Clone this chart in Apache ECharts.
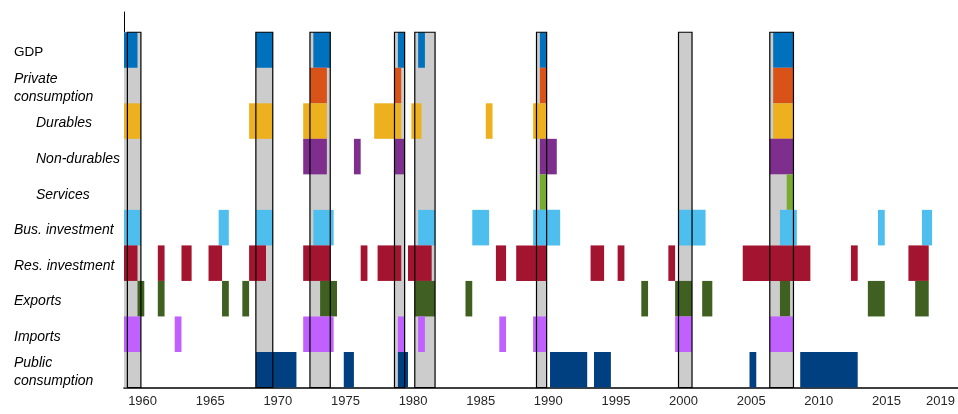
<!DOCTYPE html>
<html>
<head>
<meta charset="utf-8">
<script src="https://cdn.jsdelivr.net/npm/echarts@6/dist/echarts.min.js"></script>
<style>
  html, body { margin: 0; padding: 0; background: #ffffff; }
  #chart { width: 958px; height: 414px; }
</style>
</head>
<body>
<div id="chart"></div>
<script>
// ---- Data (decimal years; each bar spans [start, end]) ----
const rowLabels = ['GDP', 'Private\nconsumption', 'Durables', 'Non-durables', 'Services',
  'Bus. investment', 'Res. investment', 'Exports', 'Imports', 'Public\nconsumption'];
const tickYears = [1960, 1965, 1970, 1975, 1980, 1985, 1990, 1995, 2000, 2005, 2010, 2015, 2019];

const recessions = [[1959.0, 1960.0], [1968.5, 1969.75], [1972.5, 1974.0], [1978.75, 1979.5],
  [1980.25, 1981.75], [1989.25, 1990.0], [1999.75, 2000.75], [2006.5, 2008.25]];
const recessionShade = [[1958.75, 1960.0], [1968.5, 1969.75], [1972.5, 1974.0], [1978.75, 1979.5],
  [1980.25, 1981.75], [1989.25, 1990.0], [1999.75, 2000.75], [2006.5, 2008.25]];

const gdp = [[1958.75, 1959.75], [1968.5, 1969.75], [1972.75, 1974.0], [1979.0, 1979.5],
  [1980.5, 1981.0], [1989.5, 1990.0], [2006.75, 2008.25]];
const privateConsumption = [[1972.5, 1973.75], [1978.75, 1979.25], [1989.5, 1990.0], [2006.75, 2008.25]];
const durables = [[1958.75, 1960.0], [1968.0, 1969.75], [1972.0, 1973.75], [1977.25, 1979.25],
  [1980.0, 1980.75], [1985.5, 1986.0], [1989.0, 1990.0], [2006.75, 2008.25]];
const nonDurables = [[1972.0, 1973.75], [1975.75, 1976.25], [1978.75, 1979.5], [1989.5, 1990.75],
  [2006.5, 2008.25]];
const services = [[1989.5, 1990.0], [2007.75, 2008.25]];
const busInvestment = [[1958.75, 1960.0], [1965.75, 1966.5], [1968.5, 1969.75], [1972.75, 1974.25],
  [1980.5, 1981.75], [1984.5, 1985.75], [1989.0, 1991.0], [1999.75, 2001.75], [2007.25, 2008.5],
  [2014.5, 2015.0], [2017.75, 2018.5]];
const resInvestment = [[1958.75, 1959.75], [1961.25, 1961.75], [1963.0, 1963.75], [1965.0, 1966.0],
  [1968.0, 1969.25], [1972.0, 1974.0], [1976.25, 1976.75], [1977.5, 1979.25], [1979.75, 1981.5],
  [1986.25, 1987.0], [1987.75, 1990.0], [1993.25, 1994.25], [1995.25, 1995.75], [1999.0, 1999.5],
  [2004.5, 2009.5], [2012.5, 2013.0], [2016.75, 2018.25]];
const exportsData = [[1959.75, 1960.25], [1961.25, 1961.75], [1966.0, 1966.5], [1967.5, 1968.0],
  [1973.25, 1974.5], [1980.25, 1981.75], [1984.0, 1984.5], [1997.0, 1997.5], [1999.5, 2000.75],
  [2001.5, 2002.25], [2007.25, 2008.0], [2013.75, 2015.0], [2017.25, 2018.25]];
const importsData = [[1958.75, 1960.0], [1962.5, 1963.0], [1972.0, 1974.25], [1979.0, 1979.5],
  [1980.5, 1981.0], [1986.5, 1987.0], [1989.0, 1990.0], [1999.5, 2000.75], [2006.5, 2008.25]];
const publicConsumption = [[1968.5, 1971.5], [1975.0, 1975.75], [1979.0, 1979.75], [1990.25, 1993.0],
  [1993.5, 1994.75], [2005.0, 2005.5], [2008.75, 2013.0]];

const rowSeries = [gdp, privateConsumption, durables, nonDurables, services,
  busInvestment, resInvestment, exportsData, importsData, publicConsumption];
const rowColors = ['#0072BD', '#D95319', '#EDB120', '#7E2F8E', '#77AC30',
  '#4DBEEE', '#A2142F', '#3F6020', '#BF60FF', '#003F80'];

// ---- Chart ----
const nRows = rowLabels.length;
const chart = echarts.init(document.getElementById('chart'), null, { renderer: 'canvas' });

function bandRenderer(fill, stroke, lw) {
  return function (params, api) {
    const x0 = api.value(0), x1 = api.value(1), yb = api.value(2), yt = api.value(3);
    const p0 = api.coord([x0, yt]);
    const p1 = api.coord([x1, yb]);
    const cs = params.coordSys;
    const shape = echarts.graphic.clipRectByRect(
      { x: p0[0], y: p0[1], width: p1[0] - p0[0], height: p1[1] - p0[1] },
      { x: cs.x, y: cs.y, width: cs.width, height: cs.height });
    if (!shape) return;
    return {
      type: 'rect',
      shape: shape,
      style: stroke ? { fill: null, stroke: stroke, lineWidth: lw } : { fill: fill, opacity: 1 }
    };
  };
}

const series = [];
series.push({
  type: 'custom', name: 'shade', z: 1, silent: true,
  renderItem: bandRenderer('#CCCCCC'),
  encode: { x: [0, 1], y: [2, 3] },
  data: recessionShade.map(r => [r[0], r[1], 0, nRows])
});
rowSeries.forEach((arr, i) => {
  const bottom = nRows - 1 - i;
  series.push({
    type: 'custom', name: rowLabels[i], z: 2, silent: true,
    renderItem: bandRenderer(rowColors[i]),
    encode: { x: [0, 1], y: [2, 3] },
    data: arr.map(r => [r[0], r[1], bottom, bottom + 1])
  });
});
series.push({
  type: 'custom', name: 'recession', z: 3, silent: true,
  renderItem: bandRenderer(null, '#000000', 1.2),
  encode: { x: [0, 1], y: [2, 3] },
  data: recessions.map(r => [r[0], r[1], 0, nRows])
});

const labelCenters = rowLabels.map((_, i) => nRows - 1 - i + 0.5);
const italicRows = [1, 2, 3, 4, 5, 6, 7, 8, 9];
const indentRows = [2, 3, 4];
const FONT = 'Liberation Sans, Arial, sans-serif';

const option = {
  animation: false,
  backgroundColor: '#ffffff',
  grid: { left: 124, right: 0, top: 12, bottom: 26.5, containLabel: false },
  xAxis: {
    type: 'value',
    min: 1958.75, max: 2020.4,
    splitLine: { show: false },
    axisTick: { show: false },
    axisLine: { show: true, onZero: false, lineStyle: { color: '#000000', width: 1.6 } },
    axisLabel: {
      customValues: tickYears.map(y => y + 0.125),
      formatter: v => String(Math.floor(v)),
      fontFamily: FONT,
      fontSize: 13, color: '#262626', margin: 7
    }
  },
  yAxis: {
    type: 'value',
    min: 0, max: 10.57,
    splitLine: { show: false },
    axisTick: { show: false },
    axisLine: { show: true, onZero: false, lineStyle: { color: '#000000', width: 1 } },
    axisLabel: {
      customValues: labelCenters,
      align: 'left',
      margin: 110,
      padding: [5, 0, 0, 0],
      fontFamily: FONT,
      fontSize: 14, color: '#000000', lineHeight: 17.5,
      formatter: function (v) {
        const i = nRows - 1 - Math.floor(v);
        const style = indentRows.indexOf(i) >= 0 ? 'ind' : (italicRows.indexOf(i) >= 0 ? 'it' : 'n');
        return rowLabels[i].split('\n').map(t => '{' + style + '|' + t + '}').join('\n');
      },
      rich: {
        n: { fontStyle: 'normal', fontSize: 13.5, lineHeight: 17.5, fontFamily: FONT, color: '#000' },
        it: { fontStyle: 'italic', fontSize: 14, lineHeight: 17.5, fontFamily: FONT, color: '#000' },
        ind: { fontStyle: 'italic', fontSize: 14, lineHeight: 17.5, fontFamily: FONT, color: '#000', padding: [0, 0, 0, 22] }
      }
    }
  },
  series: series
};
chart.setOption(option);
</script>
</body>
</html>
